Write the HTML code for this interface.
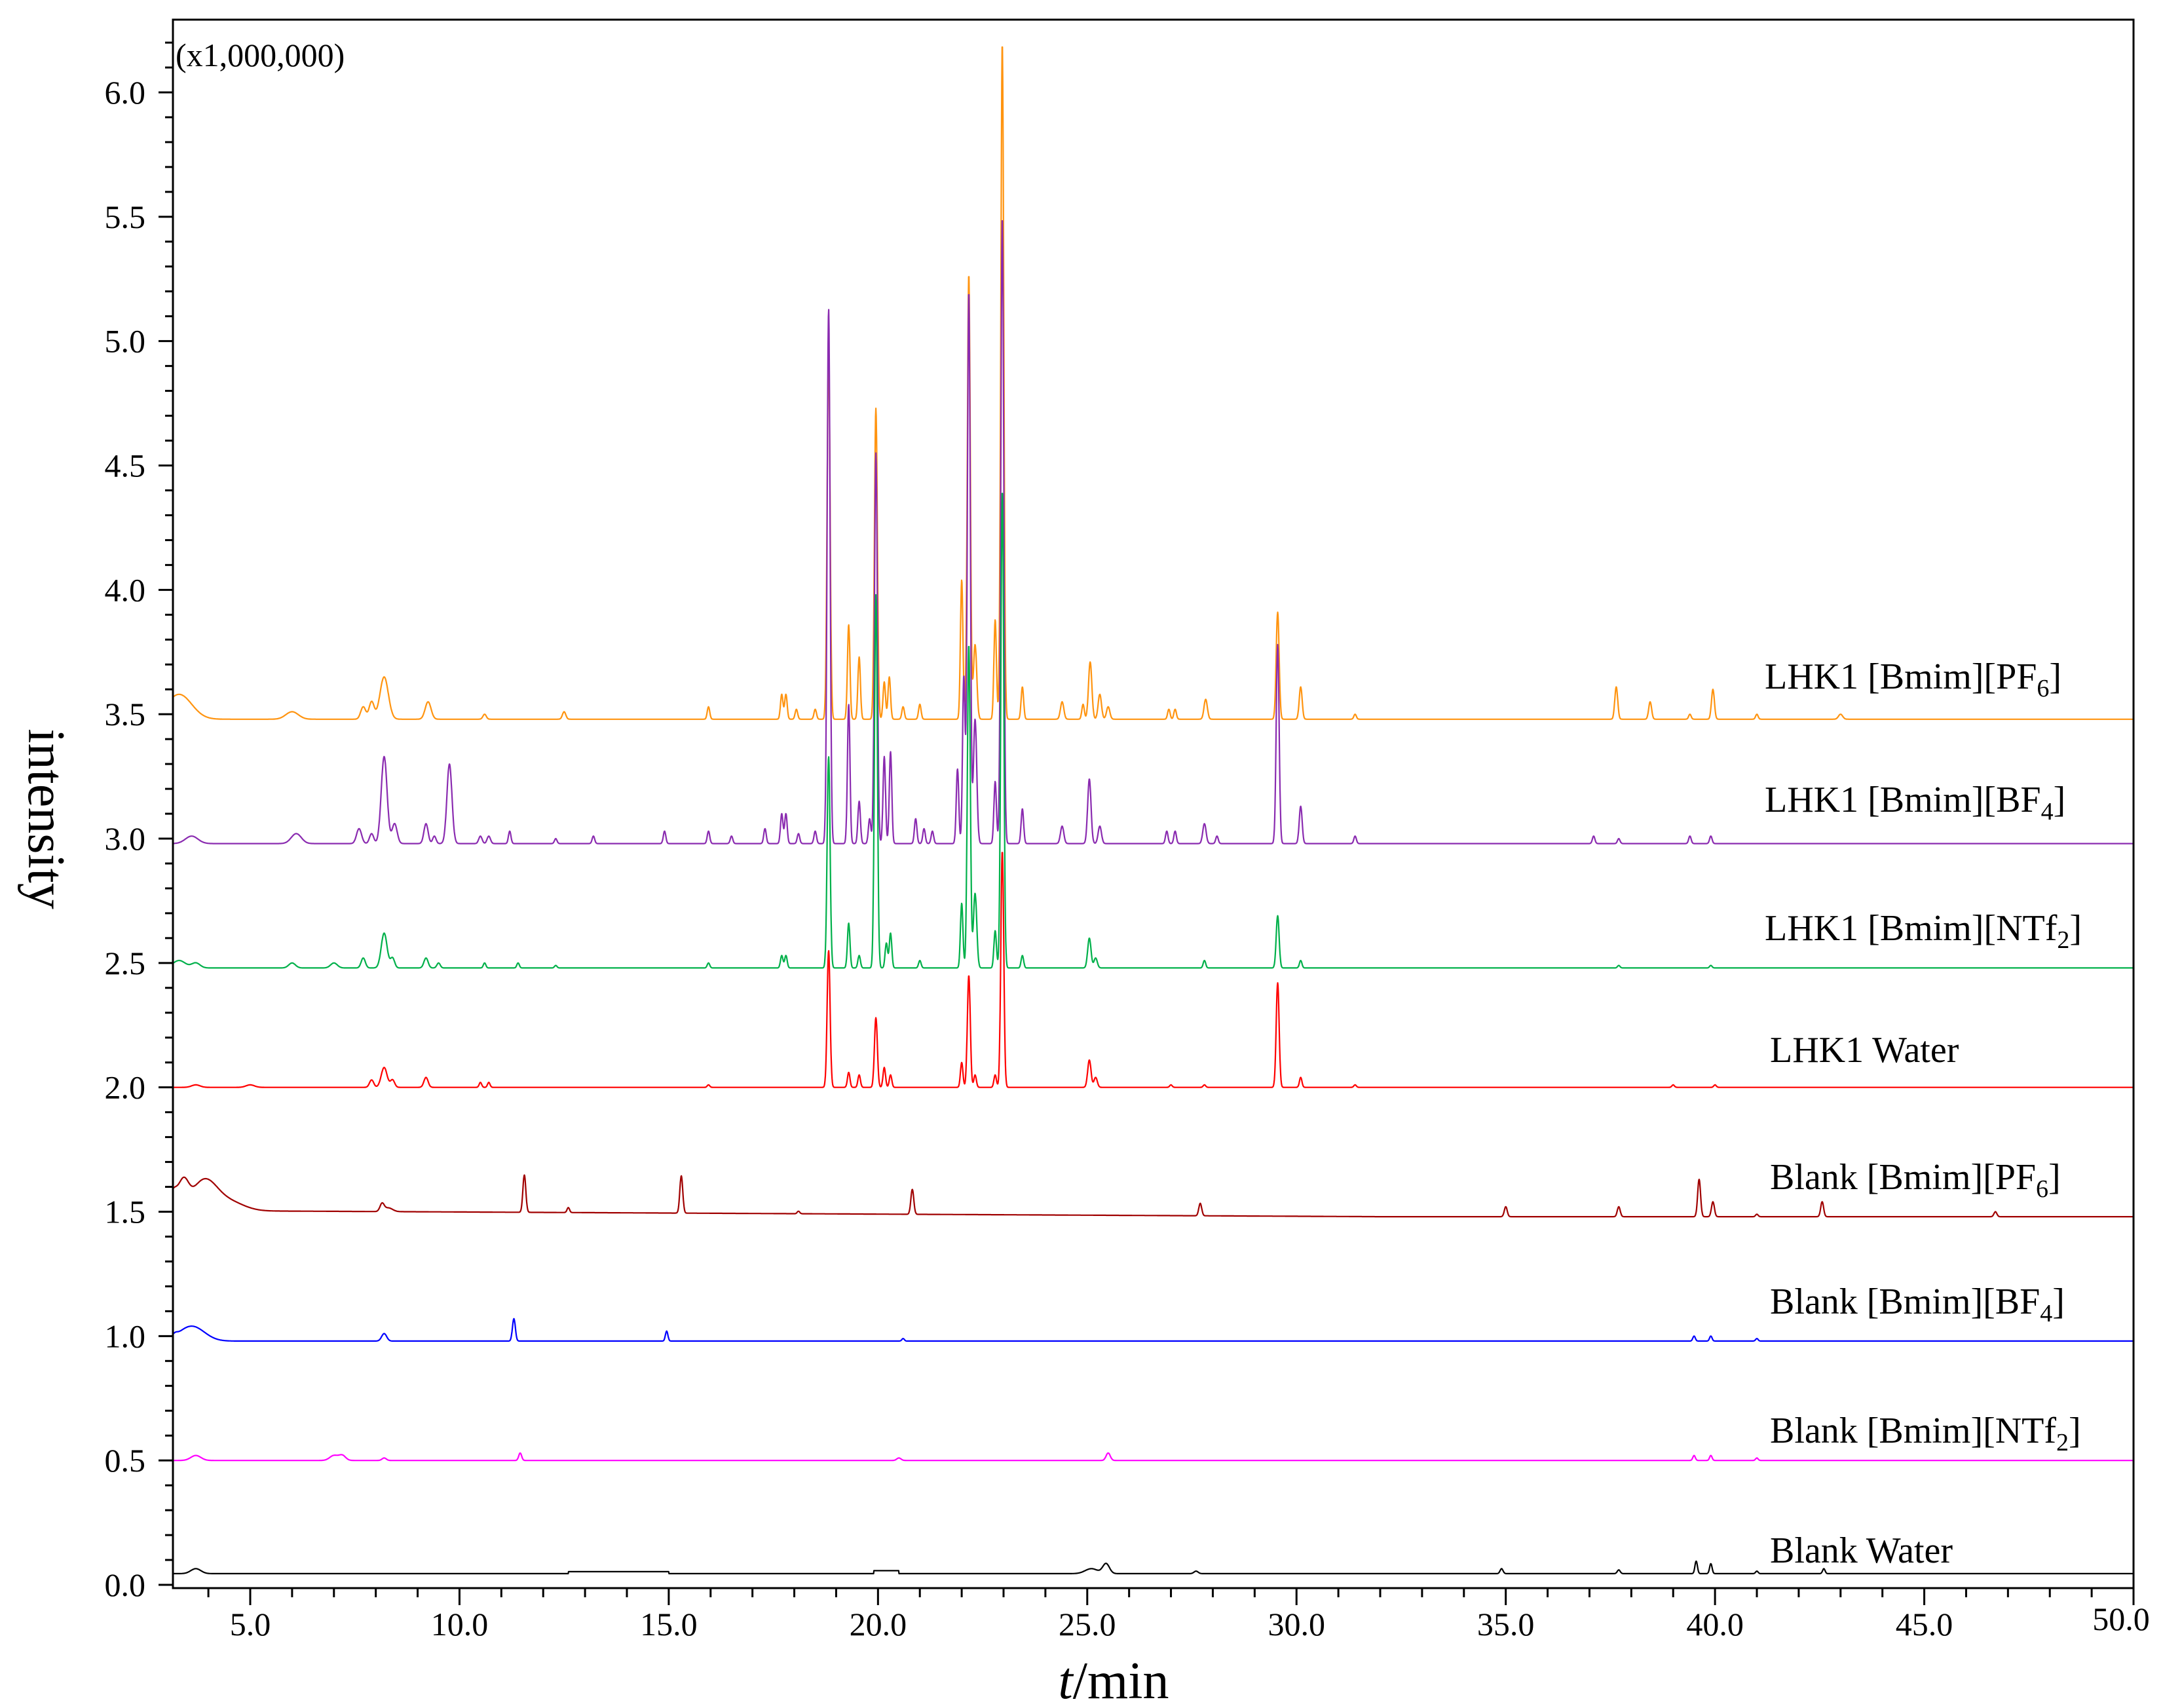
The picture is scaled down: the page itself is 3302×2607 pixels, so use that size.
<!DOCTYPE html>
<html><head><meta charset="utf-8"><style>
html,body{margin:0;padding:0;background:#fff}
svg{display:block}
text{font-family:"Liberation Serif",serif;fill:#000}
</style></head><body>
<svg id="chart" width="3302" height="2607" viewBox="0 0 3302 2607" xmlns="http://www.w3.org/2000/svg">
<g id="traces"></g>
<rect x="264" y="30" width="2993" height="2394" fill="none" stroke="#000" stroke-width="3"/>
<g id="axes"></g>
<text x="268" y="101" font-size="50">(x1,000,000)</text>
<text x="0" y="0" font-size="80" text-anchor="middle" transform="translate(44,1250) rotate(90)">intensity</text>
<text x="1700" y="2592" font-size="80" text-anchor="middle"><tspan font-style="italic">t</tspan>/min</text>
<g id="labels" font-size="56"></g>
</svg>
<script>
const xTicks=[5,10,15,20,25,30,35,40,45,50];
const yTicks=[0,0.5,1,1.5,2,2.5,3,3.5,4,4.5,5,5.5,6];
const seriesNames=["LHK1 [Bmim][PF6]","LHK1 [Bmim][BF4]","LHK1 [Bmim][NTf2]","LHK1 Water","Blank [Bmim][PF6]","Blank [Bmim][BF4]","Blank [Bmim][NTf2]","Blank Water"];
const baselines=[3.48,2.98,2.48,2.0,1.48,0.98,0.5,0.045];
// peaks: [time, height above baseline, width(sigma min)]
const peaksPF6=[[3.3,0.1,0.3],[6.0,0.03,0.15],[7.7,0.05,0.06],[7.9,0.07,0.06],[8.2,0.17,0.1],[9.25,0.07,0.07],[10.6,0.02,0.04],[12.5,0.03,0.04],[15.95,0.05,0.03],[17.7,0.1,0.03],[17.8,0.1,0.03],[18.05,0.04,0.03],[18.5,0.04,0.03],[18.82,1.47,0.035],[19.3,0.38,0.03],[19.55,0.25,0.03],[19.95,1.25,0.035],[20.15,0.15,0.03],[20.27,0.17,0.03],[20.6,0.05,0.03],[21.0,0.06,0.03],[22.0,0.56,0.03],[22.17,1.79,0.035],[22.32,0.3,0.04],[22.8,0.4,0.03],[22.97,2.72,0.035],[23.45,0.13,0.03],[24.4,0.07,0.04],[24.9,0.06,0.03],[25.07,0.23,0.04],[25.3,0.1,0.04],[25.5,0.05,0.04],[26.95,0.04,0.03],[27.1,0.04,0.03],[27.83,0.08,0.04],[29.55,0.43,0.035],[30.1,0.13,0.035],[31.4,0.02,0.03],[37.64,0.13,0.035],[38.45,0.07,0.035],[39.4,0.02,0.03],[39.95,0.12,0.035],[41.0,0.02,0.03],[43.0,0.02,0.05]];
const peaksBF4=[[3.6,0.03,0.15],[6.1,0.04,0.12],[7.6,0.06,0.06],[7.9,0.04,0.05],[8.2,0.35,0.07],[8.45,0.08,0.06],[9.2,0.08,0.05],[9.4,0.03,0.04],[9.76,0.32,0.06],[10.5,0.03,0.04],[10.7,0.03,0.04],[11.2,0.05,0.03],[12.3,0.02,0.03],[13.2,0.03,0.03],[14.9,0.05,0.03],[15.95,0.05,0.03],[16.5,0.03,0.03],[17.3,0.06,0.03],[17.7,0.12,0.03],[17.8,0.12,0.03],[18.1,0.04,0.03],[18.5,0.05,0.03],[18.82,2.15,0.035],[19.3,0.56,0.03],[19.55,0.17,0.03],[19.8,0.1,0.03],[19.95,1.57,0.035],[20.15,0.35,0.03],[20.3,0.37,0.03],[20.9,0.1,0.03],[21.1,0.06,0.03],[21.3,0.05,0.03],[21.9,0.3,0.03],[22.05,0.67,0.03],[22.17,2.22,0.035],[22.32,0.5,0.04],[22.8,0.25,0.03],[22.97,2.52,0.035],[23.45,0.14,0.03],[24.4,0.07,0.04],[25.05,0.26,0.04],[25.3,0.07,0.04],[26.9,0.05,0.03],[27.1,0.05,0.03],[27.8,0.08,0.04],[28.1,0.03,0.03],[29.55,0.8,0.035],[30.1,0.15,0.035],[31.4,0.03,0.03],[37.1,0.03,0.03],[37.7,0.02,0.03],[39.4,0.03,0.03],[39.9,0.03,0.03]];
const peaksNTf2=[[3.3,0.03,0.15],[3.7,0.02,0.1],[6.0,0.02,0.08],[7.0,0.02,0.08],[7.7,0.04,0.05],[8.2,0.14,0.07],[8.4,0.04,0.05],[9.2,0.04,0.05],[9.5,0.02,0.04],[10.6,0.02,0.03],[11.4,0.02,0.03],[12.3,0.01,0.03],[15.95,0.02,0.03],[17.7,0.05,0.03],[17.8,0.05,0.03],[18.82,0.85,0.035],[19.3,0.18,0.03],[19.55,0.05,0.03],[19.95,1.5,0.035],[20.2,0.1,0.03],[20.3,0.14,0.03],[21.0,0.03,0.03],[22.0,0.26,0.03],[22.17,1.3,0.035],[22.32,0.3,0.04],[22.8,0.15,0.03],[22.97,1.92,0.035],[23.45,0.05,0.03],[25.05,0.12,0.04],[25.2,0.04,0.04],[27.8,0.03,0.03],[29.55,0.21,0.035],[30.1,0.03,0.03],[37.7,0.01,0.03],[39.9,0.01,0.03]];
const peaksWater=[[3.7,0.01,0.1],[5.0,0.01,0.1],[7.9,0.03,0.05],[8.2,0.08,0.07],[8.4,0.03,0.05],[9.2,0.04,0.05],[10.5,0.02,0.03],[10.7,0.02,0.03],[15.95,0.01,0.03],[18.82,0.55,0.035],[19.3,0.06,0.03],[19.55,0.05,0.03],[19.95,0.28,0.035],[20.15,0.08,0.03],[20.3,0.05,0.03],[22.0,0.1,0.03],[22.17,0.45,0.035],[22.32,0.05,0.03],[22.8,0.05,0.03],[22.97,0.95,0.035],[25.05,0.11,0.04],[25.2,0.04,0.04],[27.0,0.01,0.03],[27.8,0.01,0.03],[29.55,0.42,0.035],[30.1,0.04,0.03],[31.4,0.01,0.03],[39.0,0.01,0.03],[40.0,0.01,0.03]];
const peaksBlankPF6=[[3.15,0.07,0.1],[3.4,0.1,0.12],[3.9,0.12,0.3],[4.5,0.035,0.35],[8.15,0.03,0.05],[8.3,0.015,0.1],[11.55,0.15,0.035],[12.6,0.02,0.03],[15.3,0.15,0.035],[18.1,0.01,0.03],[20.82,0.1,0.035],[27.7,0.05,0.035],[35.0,0.04,0.035],[37.7,0.04,0.035],[39.62,0.15,0.035],[39.95,0.06,0.035],[41.0,0.01,0.03],[42.56,0.06,0.035],[46.7,0.02,0.035]];
const peaksBlankBF4=[[3.2,0.01,0.06],[3.6,0.06,0.3],[8.2,0.03,0.06],[11.3,0.09,0.035],[14.95,0.04,0.03],[20.6,0.01,0.03],[39.5,0.02,0.03],[39.9,0.02,0.03],[41.0,0.01,0.03]];
const peaksBlankNTf2=[[3.7,0.02,0.12],[7.0,0.02,0.1],[7.2,0.02,0.08],[8.2,0.01,0.05],[11.45,0.03,0.035],[20.5,0.01,0.05],[25.5,0.03,0.05],[39.5,0.02,0.03],[39.9,0.02,0.03],[41.0,0.01,0.03]];
const peaksBlankWater=[[3.7,0.02,0.12],[25.1,0.02,0.15],[25.45,0.04,0.08],[27.6,0.01,0.05],[34.9,0.02,0.035],[37.7,0.015,0.035],[39.55,0.05,0.03],[39.9,0.04,0.03],[41.0,0.01,0.03],[42.6,0.02,0.03]];
// plateaus: [start, end, height]
const plateausBlankWater=[[12.6,15.0,0.008],[19.9,20.5,0.012]];
const allPeaks=[peaksPF6,peaksBF4,peaksNTf2,peaksWater,peaksBlankPF6,peaksBlankBF4,peaksBlankNTf2,peaksBlankWater];
const colors=["#ff9410","#8a2bb0","#00b04a","#ff0000","#a00000","#0000ff","#ff00ff","#000000"];
const labelY=[1051,1239,1435,1621,1815,2005,2202,2385];
const NS="http://www.w3.org/2000/svg";
const X0=3.15,X1=50;
function xs(t){return 382+(t-5)*(3257-382)/45;}
function ys(v){return 2419-v*(2419-141)/6;}
function mk(tag,attrs,parent){const e=document.createElementNS(NS,tag);for(const k in attrs)e.setAttribute(k,attrs[k]);parent.appendChild(e);return e;}
const axes=document.getElementById('axes');
for(let i=0;i<=62;i++){const v=i/10;const y=ys(v);const major=(i%5===0);
 const t=mk('line',{x1:major?242:252,x2:264,y1:y,y2:y,stroke:'#000','stroke-width':3},axes);
 
 }
yTicks.forEach(v=>{const t=mk('text',{x:222,y:ys(v)+17,'font-size':50,'text-anchor':'end'},axes);t.textContent=v.toFixed(1);
 
 });
for(let m=4;m<=50;m++){const x=xs(m);const major=(m%5===0);
 const t=mk('line',{x1:x,x2:x,y1:2424,y2:major?2450:2438,stroke:'#000','stroke-width':3},axes);
 
 }
xTicks.forEach(v=>{const t=mk('text',{x:v===50?3238:xs(v),y:v===50?2488:2496,'font-size':50,'text-anchor':'middle'},axes);t.textContent=v.toFixed(1);
 
 });
const tr=document.getElementById('traces');
allPeaks.forEach((pk,si)=>{
 let d='';
 for(let t=X0;t<=X1+1e-9;t+=0.008){let v=baselines[si];
  for(const p of pk){const z=(t-p[0])/p[2];if(Math.abs(z)<6)v+=p[1]*Math.exp(-0.5*z*z);}
  if(si===4){v+=0.025*Math.max(0,(32-t)/29);}
  if(si===7){for(const q of plateausBlankWater){if(t>=q[0]&&t<=q[1])v+=q[2];}}
  d+=(d?'L':'M')+xs(t).toFixed(1)+','+ys(v).toFixed(1);}
 const p=mk('path',{d:d,fill:'none',stroke:colors[si],'stroke-width':2.2,'stroke-linejoin':'round'},tr);
 
 
});
const lg=document.getElementById('labels');
seriesNames.forEach((n,i)=>{const t=mk('text',{x:i>=3?2702:2694,y:labelY[i],'font-size':56},lg);
 const m=n.match(/^(.*)(PF|BF|NTf)(\d)\]$/);
 if(m){t.appendChild(document.createTextNode(m[1]+m[2]));const s=mk('tspan',{dy:12,'font-size':38},t);s.textContent=m[3];const s2=mk('tspan',{dy:-12},t);s2.textContent=']';}
 else t.textContent=n;
 
 });
</script>
</body></html>
